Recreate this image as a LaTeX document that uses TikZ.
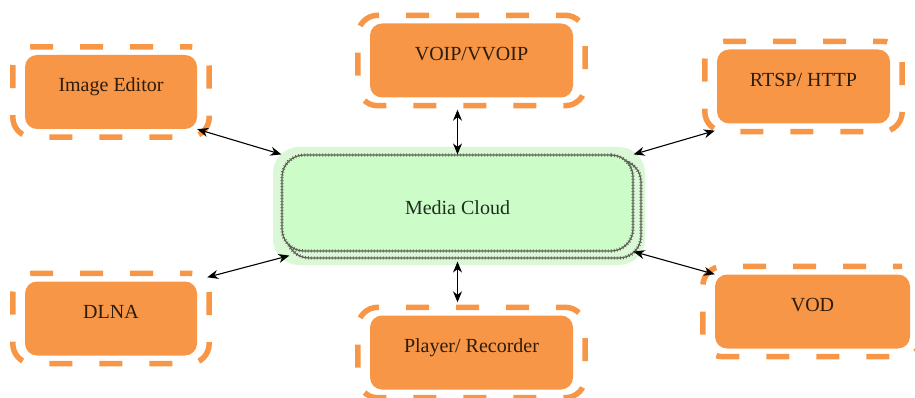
\documentclass[tikz,border=0pt]{standalone}
\usepackage{fontspec}
\setmainfont{Liberation Serif}
\usetikzlibrary{arrows.meta,fit,calc}
\definecolor{boxorange}{HTML}{F79646}
\definecolor{boxtext}{HTML}{2E1C0C}
\definecolor{cloudfill}{HTML}{CCFCC8}
\definecolor{cloudglow}{HTML}{DAF8D6}
\definecolor{railgray}{HTML}{5E6055}
\definecolor{cloudtext}{HTML}{1E2E1E}
\begin{document}
\begin{tikzpicture}[x=1pt,y=-1pt,
  svc/.style={fill=boxorange, rounded corners=12pt, minimum height=74pt,
    inner xsep=0pt, inner ysep=0pt, text height=37pt, text depth=37pt,
    font=\fontsize{20}{23}\selectfont, text=boxtext},
  halo/.style={draw=boxorange, line width=5.5pt, dash pattern=on 23pt off 27pt,
    dash phase=14pt, rounded corners=20pt, inner xsep=12pt, inner ysep=8pt},
  rail/.style={draw=railgray, line width=1.2pt, rounded corners=22pt,
    postaction={draw=railgray, line width=3.4pt, dash pattern=on 0.7pt off 2.3pt}},
  link/.style={{Stealth[length=11pt,width=9pt]}-{Stealth[length=11pt,width=9pt]},
    line width=1.1pt, black}]
\useasboundingbox (0,0) rectangle (915,398);

% service boxes
\node[svc, minimum width=172pt] (ie) at (111,92) {Image Editor};
\node[svc, minimum width=203pt] (voip) at (471.5,60.5) {VOIP/VVOIP};
\node[svc, minimum width=173pt] (rtsp) at (803.5,86.5) {RTSP/ HTTP};
\node[svc, minimum width=172pt] (dlna) at (111,318.5) {DLNA};
\node[svc, minimum width=203pt] (player) at (471.5,352.5) {Player/ Recorder};
\node[svc, minimum width=195pt] (vod) at (812.5,311.5) {VOD};

% dashed outlines around the service boxes
\node[halo, fit=(ie)] (ieh) {};
\node[halo, fit=(voip)] (voiph) {};
\node[halo, fit=(rtsp)] (rtsph) {};
\node[halo, fit=(dlna)] (dlnah) {};
\node[halo, fit=(player)] (playerh) {};
\node[halo, fit=(vod)] (vodh) {};

% media cloud
\node[fill=cloudglow, rounded corners=26pt, minimum width=372pt, minimum height=118pt] (glow) at (459,206) {};
\node[rail, minimum width=354pt, minimum height=98pt] (mcs) at (464,209) {};
\node[rail, fill=cloudfill, minimum width=351pt, minimum height=96pt,
  inner sep=0pt, text height=59.5pt, text depth=36.5pt,
  font=\fontsize{20}{23}\selectfont, text=cloudtext] (mc) at (457.5,203) {Media Cloud};

% connectors
\draw[link] (ie.south east) -- (mc.north west);
\draw[link] ($(rtsp.south west)+(-2,7)$) -- (mc.north east);
\draw[link] ($(dlna.north east)+(10,-4)$) -- ($(mc.south west)+(8,4)$);
\draw[link] (mc.south east) -- (vod.north west);
\draw[link] (mc.north) -- ($(voip.south -| mc.north)+(0,12)$);
\draw[link] ($(mcs.south -| mc.south)+(0,3)$) -- ($(player.north -| mc.south)+(0,-13)$);
\end{tikzpicture}
\end{document}
